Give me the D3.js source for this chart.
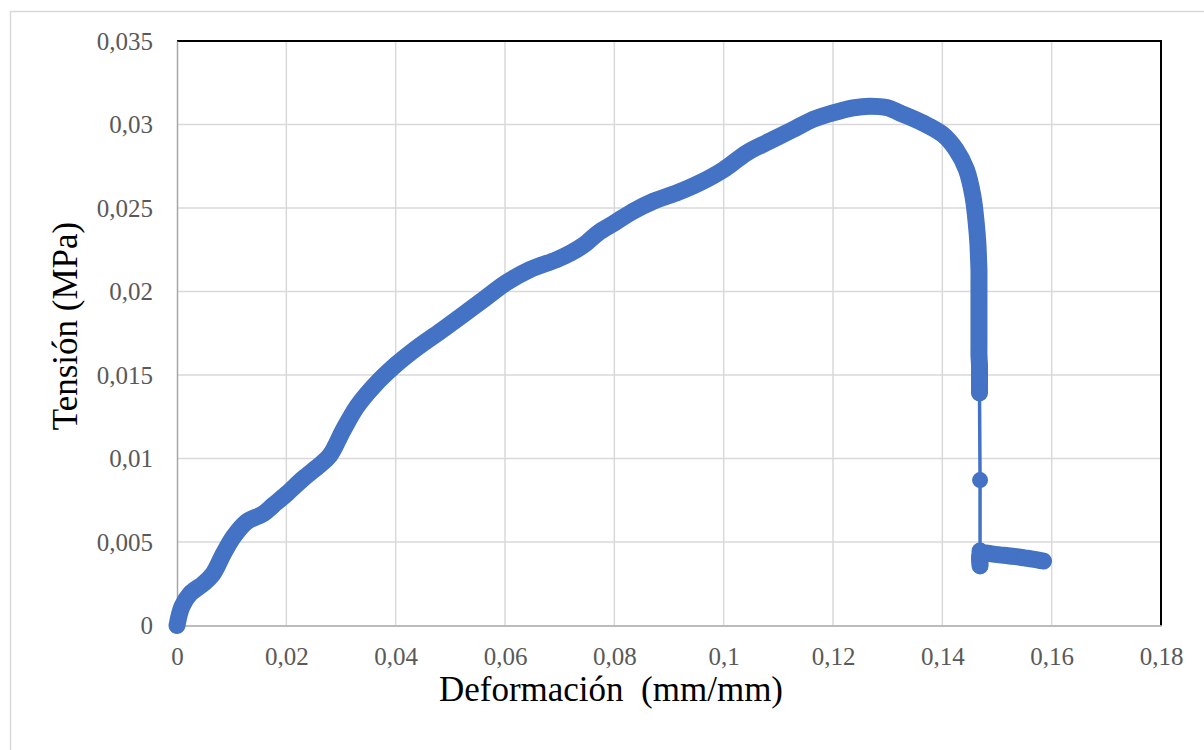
<!DOCTYPE html>
<html>
<head>
<meta charset="utf-8">
<script src="https://cdn.jsdelivr.net/npm/d3@7"></script>
<style>
  html, body { margin: 0; padding: 0; background: #ffffff; }
  svg { display: block; }
</style>
</head>
<body>
<svg id="chart" width="1204" height="750"></svg>
<script>
// ---- Data ----
const strain = [
  0, 0.0009, 0.0024, 0.0048, 0.0066, 0.0085, 0.0103, 0.0127, 0.0158, 0.0176,
  0.0201, 0.0231, 0.0261, 0.0280, 0.0304, 0.0329, 0.0359, 0.0400, 0.0438, 0.0481,
  0.0523, 0.0560, 0.0601, 0.0645, 0.0694, 0.0720, 0.0745, 0.0770, 0.0800, 0.0834, 0.0871,
  0.0914, 0.0956, 0.1000, 0.1042, 0.1084, 0.1127, 0.1163, 0.1200, 0.1237, 0.1267,
  0.1300, 0.1322, 0.1364, 0.1401, 0.1425, 0.1444, 0.1456, 0.1462, 0.1465,
  0.1466, 0.1467, 0.1467, 0.1467, 0.1467, 0.1467, 0.1467, 0.1467, 0.1467, 0.1467,
  0.1468, 0.1468, 0.1468,
  0.1469, 0.1469, 0.1469, 0.1469, 0.1469,
  0.1476, 0.1490, 0.1505, 0.1520, 0.1535, 0.1550, 0.1565, 0.1576, 0.1585
];
const stress = [
  0, 0.00113, 0.0019, 0.0025, 0.0031, 0.0043, 0.0053, 0.0062, 0.0067, 0.0072,
  0.0079, 0.0088, 0.0096, 0.0102, 0.0117, 0.0131, 0.0143, 0.0156, 0.0166, 0.0176,
  0.0186, 0.0195, 0.0205, 0.0213, 0.0219, 0.0223, 0.0228, 0.0235, 0.0241, 0.0248, 0.0254,
  0.0259, 0.0265, 0.0273, 0.0283, 0.0290, 0.0297, 0.0303, 0.0307, 0.0310, 0.0311,
  0.0310, 0.0307, 0.0301, 0.0294, 0.0285, 0.0273, 0.0257, 0.0241, 0.0229,
  0.02213, 0.02129, 0.02051, 0.01979, 0.01919, 0.01859, 0.01799, 0.01739, 0.01680, 0.01620,
  0.01554, 0.01482, 0.01392,
  0.00871, 0.00446, 0.00420, 0.00357, 0.00432,
  0.00436, 0.00429, 0.00423, 0.00418, 0.00412, 0.00405, 0.00398, 0.00392, 0.00386
];
const xTicks = [0, 0.02, 0.04, 0.06, 0.08, 0.1, 0.12, 0.14, 0.16, 0.18];
const yTicks = [0, 0.005, 0.01, 0.015, 0.02, 0.025, 0.03, 0.035];
const xTitle = "Deformación  (mm/mm)";
const yTitle = "Tensión (MPa)";

// ---- Layout ----
const svg = d3.select("#chart");
const plot = { left: 177, right: 1161, top: 41, bottom: 625.5 };
const blue = "#4472C4";
const fontFamily = "'Liberation Serif', 'Times New Roman', serif";

const x = d3.scaleLinear().domain([0, 0.18]).range([plot.left, plot.right]);
const y = d3.scaleLinear().domain([0, 0.035]).range([plot.bottom, plot.top]);

const fmt = v => v === 0 ? "0" : String(+v.toFixed(3)).replace(".", ",");

// outer chart border
svg.append("rect")
  .attr("x", 10.5).attr("y", 11.5).attr("width", 1240).attr("height", 800)
  .attr("fill", "none").attr("stroke", "#d9d9d9").attr("stroke-width", 1.5);

// gridlines
const grid = svg.append("g");
grid.selectAll("line.gx").data(xTicks.slice(1, -1)).join("line")
  .attr("x1", d => x(d)).attr("x2", d => x(d))
  .attr("y1", plot.top).attr("y2", plot.bottom)
  .attr("stroke", "#d9d9d9").attr("stroke-width", 1.5);
grid.selectAll("line.gy").data(yTicks.slice(1, -1)).join("line")
  .attr("y1", d => y(d)).attr("y2", d => y(d))
  .attr("x1", plot.left).attr("x2", plot.right)
  .attr("stroke", "#d9d9d9").attr("stroke-width", 1.5);

// plot border: top & right black
svg.append("line").attr("x1", plot.left).attr("x2", plot.right + 1)
  .attr("y1", plot.top).attr("y2", plot.top).attr("stroke", "#000").attr("stroke-width", 2);
svg.append("line").attr("x1", plot.right).attr("x2", plot.right)
  .attr("y1", plot.top).attr("y2", plot.bottom).attr("stroke", "#000").attr("stroke-width", 2);

// axes via d3
const xAxis = svg.append("g").attr("transform", `translate(0,${plot.bottom})`)
  .call(d3.axisBottom(x).tickValues(xTicks).tickFormat(fmt).tickSize(0).tickPadding(22));
const yAxis = svg.append("g").attr("transform", `translate(${plot.left},0)`)
  .call(d3.axisLeft(y).tickValues(yTicks).tickFormat(fmt).tickSize(0).tickPadding(24));
[xAxis, yAxis].forEach(g => {
  g.select(".domain").attr("stroke", "#a6a6a6").attr("stroke-width", 1.5);
  g.selectAll("text").attr("font-family", fontFamily).attr("font-size", 25).attr("fill", "#595959");
});
xAxis.selectAll("text").attr("dy", "0.71em");

// titles
svg.append("text").attr("x", 611).attr("y", 701)
  .attr("text-anchor", "middle").attr("font-family", fontFamily).attr("font-size", 35)
  .attr("fill", "#000").style("white-space", "pre").text(xTitle);
svg.append("text").attr("transform", "translate(77,326) rotate(-90)")
  .attr("text-anchor", "middle").attr("font-family", fontFamily).attr("font-size", 35)
  .attr("fill", "#000").text(yTitle);

// series
const pts = strain.map((s, i) => [x(s), y(stress[i])]);
const g = svg.append("g");

// thin connecting line through all points
g.append("path")
  .attr("d", d3.line()(pts))
  .attr("fill", "none").attr("stroke", blue).attr("stroke-width", 3.5)
  .attr("stroke-linejoin", "round");

// dense runs (markers overlapping into a band)
const runs = [];
let cur = [pts[0]];
for (let i = 1; i < pts.length; i++) {
  const d = Math.hypot(pts[i][0] - pts[i - 1][0], pts[i][1] - pts[i - 1][1]);
  if (d < 40) cur.push(pts[i]);
  else { runs.push(cur); cur = [pts[i]]; }
}
runs.push(cur);
runs.filter(r => r.length > 1).forEach(r => {
  g.append("path")
    .attr("d", d3.line().curve(d3.curveCatmullRom)(r))
    .attr("fill", "none").attr("stroke", blue).attr("stroke-width", 17)
    .attr("stroke-linejoin", "round").attr("stroke-linecap", "round");
});

// markers
g.selectAll("circle").data(pts).join("circle")
  .attr("cx", d => d[0]).attr("cy", d => d[1]).attr("r", 8)
  .attr("fill", blue);
</script>
</body>
</html>
